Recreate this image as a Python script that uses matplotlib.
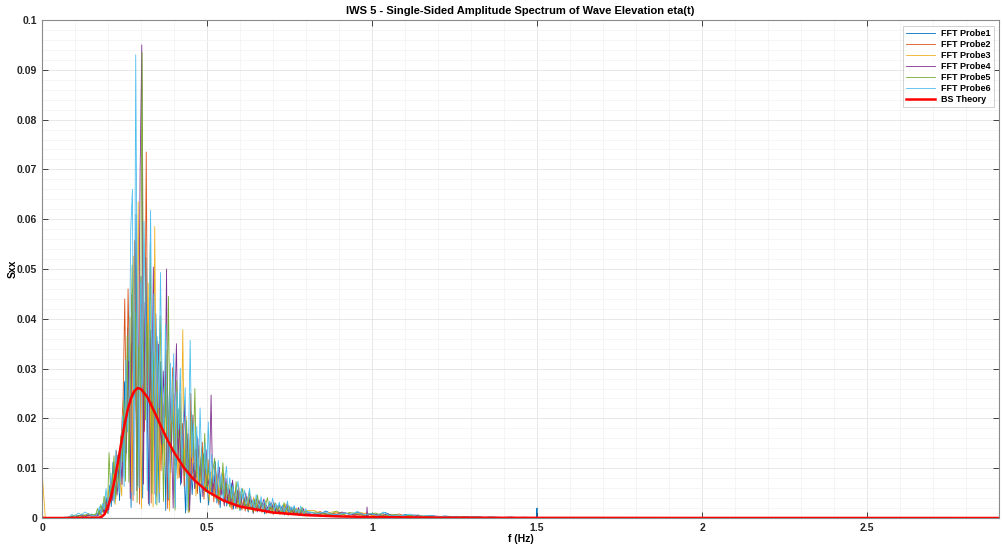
import numpy as np
import matplotlib
matplotlib.use("Agg")
import matplotlib.pyplot as plt
from matplotlib.ticker import MultipleLocator, FuncFormatter

plt.rcParams['font.family'] = ['Liberation Sans Narrow', 'Liberation Sans', 'DejaVu Sans']

# ---------------- data (amplitudes in units of 1e-3) ----------------
labels = ["FFT Probe1", "FFT Probe2", "FFT Probe3", "FFT Probe4", "FFT Probe5", "FFT Probe6"]
colors = ["#0072BD", "#D95319", "#EDB120", "#7E2F8E", "#77AC30", "#4DBEEE"]

# head: f = 0.00 ... 0.15 step 0.01
head1 = [0.1, 0.05, 0.03, 0.04, 0.02, 0.05, 0.03, 0.06, 0.1, 0.3, 0.2, 0.5, 0.3, 0.6, 0.4, 0.8]
head2 = [0.2, 0.04, 0.05, 0.02, 0.03, 0.04, 0.06, 0.05, 0.2, 0.1, 0.4, 0.3, 0.2, 0.5, 0.7, 0.3]
head3 = [9.5, 0.06, 0.04, 0.03, 0.05, 0.02, 0.04, 0.08, 0.1, 0.2, 0.3, 0.1, 0.5, 0.4, 0.3, 0.6]
head4 = [0.1, 0.03, 0.02, 0.05, 0.04, 0.03, 0.05, 0.04, 0.15, 0.3, 0.1, 0.4, 0.6, 0.2, 0.5, 0.4]
head5 = [0.3, 0.05, 0.03, 0.02, 0.04, 0.06, 0.03, 0.1, 0.2, 0.4, 0.6, 0.3, 0.8, 0.5, 0.9, 0.6]
head6 = [0.2, 0.04, 0.06, 0.03, 0.02, 0.05, 0.04, 0.2, 0.1, 0.7, 0.4, 1.0, 0.6, 1.2, 0.8, 0.5]

# main: f = 0.16 ... 0.80 step 0.005
main1 = [0.2, 0.9, 0.4, 1.6, 0.7, 2.8, 1.2, 4.1, 0.9, 6.5,
         2.3, 11.2, 4.8, 7.1, 12.6, 3.5, 16.9, 8.2, 27.4, 13.0,
         38.2, 19.5, 2.1, 46.1, 24.3, 61.0, 6.5, 33.8, 48.5, 4.0,
         29.6, 52.3, 18.1, 2.5, 37.7, 25.2, 14.6, 41.0, 20.8, 3.1,
         31.4, 12.9, 22.6, 1.5, 27.0, 16.3, 9.1, 19.7, 24.8, 8.4,
         14.2, 21.9, 6.6, 17.5, 10.3, 1.0, 15.8, 9.0, 12.6, 4.7,
         11.1, 6.0, 16.4, 8.2, 3.1, 9.8, 12.9, 5.3, 7.4, 2.6,
         9.2, 4.5, 6.8, 11.3, 3.0, 5.7, 2.1, 7.9, 4.0, 6.2,
         2.4, 5.1, 3.3, 7.0, 1.8, 4.4, 2.7, 5.6, 1.5, 3.9,
         4.8, 2.2, 3.1, 1.2, 4.1, 2.5, 0.9, 3.4, 1.9, 2.8,
         1.4, 3.0, 2.1, 0.8, 2.6, 1.6, 3.3, 1.0, 1.9, 2.4,
         0.9, 1.8, 2.7, 1.1, 1.5, 0.6, 2.2, 1.3, 0.8, 1.7,
         1.2, 2.3, 0.7, 1.4, 0.5, 1.8, 1.0, 0.6, 1.3]
main2 = [0.5, 0.3, 1.1, 0.6, 2.0, 1.4, 0.8, 3.2, 2.5, 4.7,
         7.8, 3.6, 9.4, 13.5, 5.9, 8.8, 17.2, 24.1, 44.0, 15.6,
         46.0, 27.8, 35.2, 3.5, 55.7, 21.3, 30.9, 2.8, 42.8, 26.5,
         17.4, 73.5, 23.9, 44.2, 3.0, 31.6, 20.0, 4.4, 35.5, 16.7,
         9.5, 24.4, 18.6, 28.9, 1.9, 20.5, 13.4, 30.2, 10.6, 17.8,
         22.3, 8.1, 12.7, 19.0, 6.4, 14.9, 10.8, 1.2, 25.0, 9.3,
         7.6, 13.8, 4.9, 10.5, 8.7, 15.2, 3.8, 9.9, 6.3, 11.7,
         5.5, 8.4, 3.2, 10.1, 6.6, 2.7, 7.3, 4.8, 9.0, 3.5,
         6.1, 2.9, 4.6, 1.7, 5.4, 3.6, 2.2, 6.5, 3.0, 1.6,
         3.7, 1.4, 4.3, 2.6, 1.9, 3.5, 1.1, 2.9, 4.0, 1.7,
         2.3, 1.2, 2.9, 1.8, 0.9, 2.5, 1.5, 3.1, 0.7, 1.9,
         1.6, 2.4, 0.8, 1.9, 2.6, 1.0, 1.4, 0.5, 2.0, 1.2,
         0.9, 1.5, 1.9, 0.6, 1.1, 0.8, 1.6, 1.2, 0.5]
main3 = [0.3, 0.7, 1.5, 0.5, 1.0, 2.2, 3.8, 1.3, 5.6, 3.1,
         4.2, 8.9, 2.7, 6.4, 11.8, 7.5, 4.4, 19.6, 12.2, 29.3,
         22.7, 40.4, 5.2, 52.6, 31.2, 18.4, 63.5, 27.1, 1.9, 39.9,
         21.5, 33.0, 47.2, 15.9, 27.8, 2.2, 58.5, 19.2, 30.7, 5.0,
         25.6, 17.1, 10.4, 33.7, 21.2, 1.4, 18.0, 28.3, 12.0, 22.9,
         7.9, 16.6, 11.5, 37.8, 9.7, 20.4, 13.2, 1.3, 17.3, 10.9,
         13.5, 4.4, 9.2, 14.6, 6.9, 11.4, 5.0, 8.6, 12.1, 3.4,
         7.7, 10.6, 4.2, 6.0, 8.8, 3.6, 5.9, 9.5, 2.8, 6.9,
         4.0, 6.7, 2.1, 4.9, 3.1, 6.0, 1.9, 3.7, 5.2, 2.5,
         2.0, 4.5, 3.0, 1.5, 3.8, 2.3, 4.2, 1.3, 2.7, 3.3,
         2.8, 1.1, 2.2, 3.5, 1.4, 2.0, 0.9, 2.7, 1.7, 1.0,
         2.1, 1.3, 0.7, 2.4, 1.6, 2.9, 0.9, 1.5, 2.2, 0.6,
         1.4, 0.8, 2.0, 1.1, 1.7, 0.6, 1.3, 0.9, 1.5]
main4 = [0.6, 0.4, 1.3, 0.9, 2.4, 1.1, 3.3, 2.0, 1.6, 5.2,
         3.4, 6.9, 10.3, 4.6, 8.2, 14.1, 6.7, 21.5, 9.8, 18.0,
         31.5, 3.9, 44.9, 25.0, 37.3, 5.5, 28.4, 70.0, 95.0, 6.8,
         43.3, 28.0, 2.9, 36.1, 21.9, 50.4, 4.8, 25.7, 34.9, 18.3,
         14.7, 29.5, 20.3, 50.0, 3.6, 26.1, 15.4, 2.0, 21.6, 35.0,
         12.2, 18.8, 7.0, 14.4, 23.6, 9.5, 16.9, 1.5, 11.0, 20.7,
         5.9, 10.7, 15.9, 7.2, 12.3, 4.3, 9.4, 13.7, 6.5, 8.1,
         24.7, 5.0, 8.5, 3.9, 7.1, 10.2, 4.6, 6.4, 2.4, 8.0,
         3.5, 5.8, 2.6, 7.6, 4.3, 1.9, 5.5, 3.2, 4.7, 2.1,
         3.0, 5.0, 1.8, 2.9, 4.4, 1.6, 3.2, 2.4, 1.2, 3.6,
         1.9, 2.7, 3.8, 1.3, 2.2, 1.0, 2.9, 2.0, 3.2, 1.2,
         2.5, 1.0, 1.7, 2.3, 0.9, 1.9, 2.8, 1.2, 1.6, 2.1,
         0.8, 1.6, 1.1, 2.1, 0.7, 1.3, 1.9, 0.6, 1.0]
main5 = [0.8, 1.9, 0.6, 2.7, 1.3, 4.4, 2.2, 1.0, 13.1, 4.9,
         7.0, 12.5, 3.9, 9.9, 6.1, 16.4, 11.3, 23.7, 7.4, 36.6,
         7.2, 29.5, 50.8, 22.4, 41.3, 3.1, 34.6, 25.9, 93.5, 30.3,
         19.7, 39.1, 26.6, 55.4, 4.9, 33.5, 24.1, 2.6, 28.6, 40.6,
         19.9, 3.3, 26.7, 16.1, 44.5, 13.0, 23.4, 18.7, 1.6, 27.6,
         16.0, 24.9, 10.1, 13.9, 8.5, 19.6, 1.1, 15.3, 21.2, 12.4,
         26.0, 8.3, 11.9, 6.7, 14.1, 9.1, 17.0, 5.4, 10.3, 7.8,
         6.4, 9.7, 12.0, 5.2, 3.4, 8.3, 5.6, 11.1, 4.3, 7.0,
         5.0, 2.3, 6.3, 4.1, 2.8, 7.3, 3.4, 1.8, 4.5, 5.9,
         2.4, 3.9, 1.6, 5.3, 2.7, 1.4, 3.8, 2.1, 4.6, 1.5,
         3.4, 2.0, 1.5, 2.8, 4.1, 1.7, 2.4, 1.1, 2.6, 3.0,
         1.1, 2.2, 1.8, 0.8, 3.1, 1.4, 1.8, 2.5, 1.0, 1.5,
         1.8, 0.9, 1.3, 1.7, 1.0, 2.2, 0.7, 1.4, 1.1]
main6 = [0.4, 1.0, 2.3, 0.7, 3.0, 1.7, 5.9, 2.6, 4.0, 9.0,
         5.3, 3.0, 13.7, 8.6, 5.0, 10.9, 20.5, 6.3, 31.8, 17.3,
         24.8, 58.2, 66.0, 4.6, 93.0, 35.9, 6.0, 47.4, 26.8, 59.6,
         37.0, 5.5, 30.3, 61.8, 23.5, 45.0, 2.8, 36.4, 22.1, 49.3,
         27.2, 15.0, 38.9, 21.4, 3.9, 31.1, 19.3, 33.0, 2.1, 25.4,
         17.6, 30.1, 10.8, 20.1, 26.2, 1.6, 14.5, 35.7, 12.1, 19.0,
         9.6, 18.4, 7.4, 22.1, 10.9, 5.8, 15.0, 8.8, 19.3, 6.0,
         12.8, 7.0, 9.8, 4.4, 11.6, 6.1, 8.9, 3.3, 7.5, 10.4,
         4.7, 8.1, 3.9, 6.6, 2.5, 5.3, 7.4, 2.9, 6.0, 3.6,
         5.6, 2.8, 4.0, 6.0, 2.2, 3.7, 1.8, 4.7, 3.0, 2.1,
         4.3, 1.6, 3.6, 2.5, 1.3, 3.3, 2.2, 4.0, 1.5, 2.8,
         1.9, 3.2, 1.4, 2.6, 1.2, 2.0, 3.4, 1.0, 2.3, 1.7,
         2.5, 1.2, 1.8, 0.9, 2.4, 1.5, 0.8, 1.9, 1.2]

# tail: f = 0.82 ... 1.60 step 0.02
tail1 = [1.1, 0.6, 1.4, 0.8, 0.5, 1.0, 0.7, 1.2, 0.4, 0.9, 0.6, 1.1, 0.5, 0.3, 0.7, 0.4, 0.6, 0.3, 0.5, 0.2,
         0.4, 0.3, 0.2, 0.3, 0.15, 0.25, 0.1, 0.2, 0.15, 0.1, 0.2, 0.1, 0.15, 0.1, 0.1, 0.1, 0.08, 0.1, 0.05, 0.05]
tail2 = [0.8, 1.3, 0.5, 0.9, 1.1, 0.4, 0.8, 0.6, 1.0, 0.5, 0.7, 0.3, 0.6, 0.8, 0.3, 0.5, 0.2, 0.4, 0.3, 0.2,
         0.3, 0.2, 0.25, 0.1, 0.2, 0.15, 0.1, 0.12, 0.08, 0.1, 0.05, 0.1, 0.06, 0.08, 0.1, 0.05, 0.06, 0.04, 0.05, 0.03]
tail3 = [1.5, 0.7, 1.0, 1.3, 0.6, 0.9, 0.5, 1.1, 0.8, 0.4, 0.9, 0.5, 0.4, 0.6, 0.35, 0.2, 0.45, 0.3, 0.2, 0.35,
         0.15, 0.25, 0.2, 0.1, 0.15, 0.1, 0.12, 0.08, 0.1, 0.06, 0.08, 0.05, 0.07, 0.05, 0.06, 0.04, 0.05, 0.03, 0.04, 0.03]
tail4 = [0.6, 1.0, 0.7, 0.5, 1.2, 0.8, 0.6, 0.9, 0.7, 0.7, 0.5, 0.8, 0.4, 0.3, 0.5, 0.6, 0.3, 0.2, 0.4, 0.3,
         0.2, 0.3, 0.15, 0.2, 0.1, 0.15, 0.12, 0.1, 0.08, 0.1, 0.06, 0.08, 0.05, 0.06, 0.05, 0.04, 0.05, 0.03, 0.04, 0.02]
tail5 = [1.2, 0.9, 0.6, 1.4, 0.7, 1.1, 0.9, 0.5, 0.8, 1.0, 0.4, 0.6, 0.7, 0.3, 0.5, 0.4, 0.3, 0.5, 0.2, 0.3,
         0.25, 0.2, 0.3, 0.15, 0.2, 0.1, 0.15, 0.1, 0.12, 0.08, 0.1, 0.06, 0.08, 0.05, 0.07, 0.04, 0.05, 0.03, 0.04, 0.02]
tail6 = [0.9, 1.2, 0.8, 0.6, 1.0, 0.7, 1.3, 0.6, 0.9, 0.5, 1.2, 0.4, 0.6, 0.5, 0.8, 0.3, 0.4, 0.5, 0.25, 0.3,
         0.2, 0.35, 0.15, 0.2, 0.25, 0.1, 0.15, 0.12, 0.1, 0.08, 0.1, 0.07, 0.06, 0.08, 0.05, 0.06, 0.04, 0.05, 0.03, 0.03]

# isolated narrow spikes in the tail: (probe index, frequency, amplitude)
spike_probe = [0, 3]
spike_f = [1.500, 0.985]
spike_a = [2.0, 2.2]

heads = [head1, head2, head3, head4, head5, head6]
mains = [main1, main2, main3, main4, main5, main6]
tails = [tail1, tail2, tail3, tail4, tail5, tail6]

# Bretschneider theory curve
bs_f = [0.0, 0.15, 0.17, 0.18, 0.19, 0.20, 0.21, 0.22, 0.23, 0.24, 0.25, 0.26, 0.27, 0.28, 0.29,
        0.30, 0.32, 0.34, 0.36, 0.38, 0.40, 0.43, 0.46, 0.50, 0.55, 0.60, 0.70, 0.80, 0.90,
        1.0, 1.2, 1.5, 2.0, 3.0]
bs_s = [0.0, 0.0, 0.00003, 0.0002, 0.0008, 0.0023, 0.0045, 0.0076, 0.0112, 0.0150, 0.0187, 0.0218,
        0.0241, 0.0255, 0.0261, 0.0259, 0.0242, 0.0214, 0.0185, 0.0157, 0.0132, 0.0101, 0.0077,
        0.0054, 0.0035, 0.0023, 0.0011, 0.00057, 0.00032, 0.00019, 0.00007, 0.00003, 0.00001, 0.0]

# ---------------- plot ----------------
fig = plt.figure(figsize=(10.02, 5.5), dpi=100)
ax = fig.add_axes([42/1002, 1 - 518/550, 957/1002, 498/550])

for k in range(6):
    fh = 0.01 * np.arange(len(heads[k]))
    fm = 0.16 + 0.005 * np.arange(len(mains[k])) + 0.0008 * k
    ft = 0.82 + 0.02 * np.arange(len(tails[k])) + 0.003 * k
    f = list(np.concatenate([fh, fm, ft, [1.7, 3.0]]))
    a = list(np.concatenate([heads[k], mains[k], tails[k], [0.0, 0.0]]))
    for p, sf, sa in zip(spike_probe, spike_f, spike_a):
        if p == k:
            f += [sf - 0.002, sf, sf + 0.002]
            a += [0.05, sa, 0.05]
    order = np.argsort(f)
    f = np.asarray(f)[order]
    a = np.asarray(a)[order] * 1e-3
    ax.plot(f, a, color=colors[k], lw=0.6, label=labels[k])

ax.plot(bs_f, bs_s, color="#FF0000", lw=1.8, label="BS Theory")

ax.set_xlim(0, 2.9)
ax.set_ylim(0, 0.1)
ax.xaxis.set_major_locator(MultipleLocator(0.5))
ax.xaxis.set_minor_locator(MultipleLocator(0.1))
ax.yaxis.set_major_locator(MultipleLocator(0.01))
ax.yaxis.set_minor_locator(MultipleLocator(0.002))
fmt = FuncFormatter(lambda v, p: "%g" % round(v, 3))
ax.xaxis.set_major_formatter(fmt)
ax.yaxis.set_major_formatter(fmt)

ax.grid(True, which="major", color="#e3e3e3", lw=0.6)
ax.grid(True, which="minor", color="#f2f2f2", lw=0.5)
ax.set_axisbelow(True)
ax.tick_params(which="both", direction="in", top=True, right=True, colors="#262626",
               labelsize=7.5, length=4, width=0.6)
ax.tick_params(which="minor", length=0)
for lab in ax.get_xticklabels() + ax.get_yticklabels():
    lab.set_fontweight("bold")
for s in ax.spines.values():
    s.set_color("#8a8a8a")
    s.set_linewidth(0.8)

ax.set_title("IWS 5 - Single-Sided Amplitude Spectrum of Wave Elevation eta(t)",
             fontsize=8, fontweight="bold", pad=4)
ax.set_xlabel("f (Hz)", fontsize=7.5, fontweight="bold", labelpad=1)
ax.set_ylabel("Sxx", fontsize=7.5, fontweight="bold", labelpad=-1)

leg = ax.legend(loc="upper right", prop={"weight": "bold", "size": 6.5},
                frameon=True, fancybox=False, edgecolor="#bdbdbd", handlelength=3.2,
                borderpad=0.35, labelspacing=0.22, handletextpad=0.6,
                bbox_to_anchor=(0.999, 0.997))
leg.get_frame().set_linewidth(0.6)

fig.savefig("out.png", dpi=100)
